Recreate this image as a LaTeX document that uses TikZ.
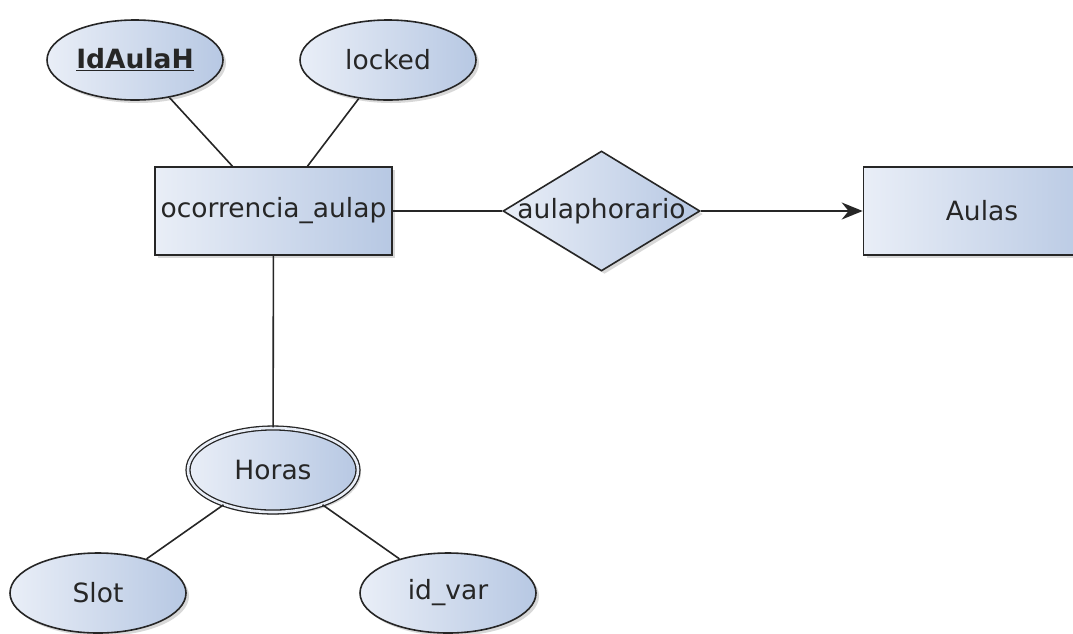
\documentclass[tikz,border=0pt]{standalone}
\usepackage{fontspec}
\setmainfont{DejaVu Sans}
\usetikzlibrary{shapes.geometric,shadows,arrows.meta}
\definecolor{fillL}{HTML}{E9EEF7}
\definecolor{fillR}{HTML}{B7C8E3}
\definecolor{inkC}{HTML}{262626}
\tikzset{
  labelfont/.style={font=\fontsize{26.5}{30}\selectfont, text=inkC},
  erbase/.style={draw=inkC, line width=1.6pt, left color=fillL, right color=fillR,
    drop shadow={shadow xshift=3pt, shadow yshift=-3pt, opacity=0.3},
    labelfont, inner sep=0pt},
  entity/.style={erbase, rectangle, minimum width=237pt, minimum height=88pt},
  attr/.style={erbase, ellipse, minimum width=176pt, minimum height=80pt},
  multiattr/.style={erbase, ellipse, double=fillL, double distance=2.6pt, line width=1.3pt,
    minimum width=170pt, minimum height=84pt},
  rel/.style={erbase, diamond, minimum width=197pt, minimum height=120pt},
  link/.style={draw=inkC, line width=1.6pt},
}
\begin{document}
\begin{tikzpicture}[x=1pt, y=-1pt]
  \clip (0,0) rectangle (1073,633);
  \fill[white] (0,0) rectangle (1073,633);

  % entities and relationship
  \node[entity] (ocor) at (273.5,211) {ocorrencia\_aulap};
  \node[entity] (aulas) at (982,211) {Aulas};
  \node[rel, label={[labelfont]center:aulaphorario}] (rel) at (601.5,211) {};

  % attributes
  \node[attr] (idaulah) at (135,60) {\underline{\textbf{IdAulaH}}};
  \node[attr] (locked) at (388,60) {locked};
  \node[multiattr] (horas) at (273,470) {Horas};
  \node[attr] (slot) at (98,593) {Slot};
  \node[attr] (idvar) at (448,593) {id\_var};

  % connectors
  \draw[link] (idaulah) -- (ocor);
  \draw[link] (locked) -- (ocor);
  \draw[link] (ocor) -- (rel);
  \draw[link, -{Stealth[length=21pt, width=17pt]}] (rel) -- (aulas);
  \draw[link] (ocor) -- (horas);
  \draw[link] (horas) -- (slot);
  \draw[link] (horas) -- (idvar);
\end{tikzpicture}
\end{document}
